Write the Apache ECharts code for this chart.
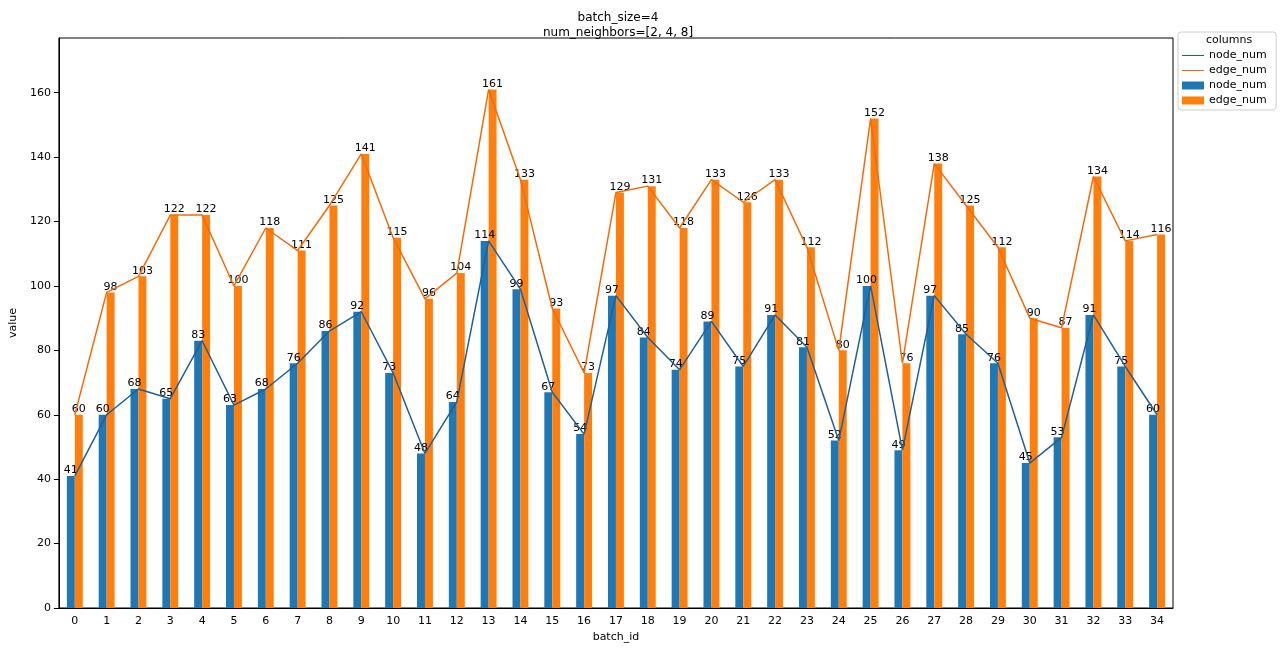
<!DOCTYPE html>
<html><head><meta charset="utf-8">
<script src="https://cdn.jsdelivr.net/npm/echarts@6/dist/echarts.min.js"></script>
<style>html,body{margin:0;background:#fff}#c{width:1280px;height:648px}</style>
</head><body><div id="c"></div>
<script>
var batchIds = [];
for (var i = 0; i < 35; i++) batchIds.push(String(i));
var nodeNum = [41,60,68,65,83,63,68,76,86,92,73,48,64,114,99,67,54,97,84,74,89,75,91,81,52,100,49,97,85,76,45,53,91,75,60];
var edgeNum = [60,98,103,122,122,100,118,111,125,141,115,96,104,161,133,93,73,129,131,118,133,126,133,112,80,152,76,138,125,112,90,87,134,114,116];

var font = 'DejaVu Sans';
var chart = echarts.init(document.getElementById('c'));
var lbl = { show: true, position: 'top', distance: 0, color: '#000', fontSize: 11, fontFamily: font };
chart.setOption({
  animation: false,
  textStyle: { fontFamily: font },
  title: {
    text: 'batch_size=4\nnum_neighbors=[2, 4, 8]',
    left: 613, top: 5, textAlign: 'center',
    textStyle: { fontSize: 12, fontWeight: 'normal', lineHeight: 15, color: '#000' }
  },
  legend: {
    orient: 'vertical', left: 1178, top: 32, itemWidth: 22, itemHeight: 8, itemGap: 4,
    borderColor: '#ccc', borderWidth: 1, borderRadius: 3, padding: [18, 6, 4, 4],
    textStyle: { fontSize: 11, color: '#000' },
    data: [
      { name: 'node_num', icon: 'path://M0,4L22,4L22,5L0,5Z' },
      { name: 'edge_num', icon: 'path://M0,4L22,4L22,5L0,5Z' },
      { name: 'node_num ', icon: 'rect' },
      { name: 'edge_num ', icon: 'rect' }
    ]
  },
  graphic: [{ type: 'text', left: 1206, top: 35, style: { text: 'columns', fontSize: 11, fill: '#000', fontFamily: font } }],
  grid: { left: 53, right: 107, top: 38, bottom: 40, show: true, borderColor: '#000', borderWidth: 1 },
  xAxis: {
    type: 'category', data: batchIds, name: 'batch_id', nameLocation: 'middle', nameGap: 22,
    nameTextStyle: { fontSize: 11, color: '#000' },
    axisLine: { lineStyle: { color: '#000' } }, axisTick: { alignWithLabel: true, lineStyle: { color: '#000' } },
    axisLabel: { color: '#000', fontSize: 11 }
  },
  yAxis: {
    type: 'value', min: 0, max: 177, interval: 20, name: 'value', nameLocation: 'middle', nameGap: 36,
    nameTextStyle: { fontSize: 11, color: '#000' },
    axisLine: { show: true, lineStyle: { color: '#000' } }, axisTick: { show: true, lineStyle: { color: '#000' } },
    axisLabel: { color: '#000', fontSize: 11, showMaxLabel: false }, splitLine: { show: false }
  },
  series: [
    { name: 'node_num', type: 'line', data: nodeNum, showSymbol: false, color: '#1f5f96', lineStyle: { width: 1.5, color: '#1f5f96' }, z: 5 },
    { name: 'edge_num', type: 'line', data: edgeNum, showSymbol: false, color: '#f26b0a', lineStyle: { width: 1.5, color: '#f26b0a' }, z: 5 },
    { name: 'node_num ', type: 'bar', data: nodeNum, barWidth: '25%', barGap: '0%', color: '#1f77b4', label: lbl },
    { name: 'edge_num ', type: 'bar', data: edgeNum, barWidth: '25%', barGap: '0%', color: '#ff7f0e', label: lbl }
  ]
});
</script></body></html>
